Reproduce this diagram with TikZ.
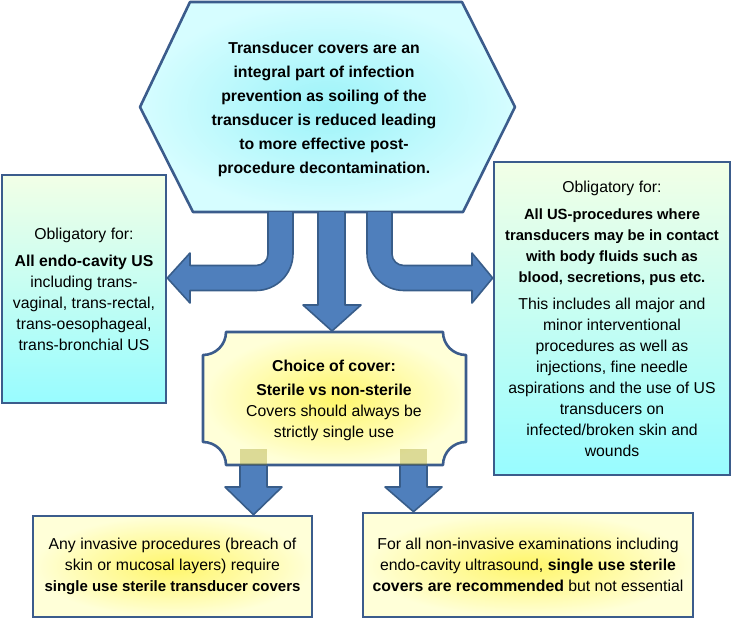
\documentclass[tikz,border=0pt]{standalone}
\usepackage{fontspec}
\setmainfont{Liberation Sans}
\usepackage{tikz}
\usetikzlibrary{calc, positioning}

\definecolor{lineblue}{HTML}{3B5C8C}
\definecolor{arrowblue}{HTML}{4F7FBC}
\definecolor{arrowline}{HTML}{385D8A}
\definecolor{palegreen}{HTML}{F2FFE6}
\definecolor{deepcyan}{HTML}{98FCFF}
\definecolor{hexinner}{HTML}{9CF3F9}
\definecolor{hexouter}{HTML}{D6FDFF}
\definecolor{yellowinner}{HTML}{FFF66A}
\definecolor{yellowouter}{HTML}{FFFFD8}
\newcommand{\smallbold}[1]{{\fontsize{14.8}{21}\selectfont\bfseries #1}}

\tikzset{
    txt/.style={font=\fontsize{15.8}{21}\selectfont, align=center, inner sep=0pt},
    cyanbox/.style={txt, draw=lineblue, line width=2.6pt, top color=palegreen, bottom color=deepcyan},
    yellowbox/.style={txt, draw=lineblue, line width=2.6pt, inner color=yellowinner, outer color=yellowouter},
    blockarrow/.style={fill=arrowblue, draw=arrowline, line width=1.6pt, line join=round},
}

\begin{document}
\begin{tikzpicture}[x=1pt, y=-1pt]
    \useasboundingbox (0,0) rectangle (733,619);

    % 1. Lục giác phía trên
    \draw[draw=lineblue, line width=2.6pt, line join=round, inner color=hexinner, outer color=hexouter]
        (190,2) -- (462,2) -- (515,107) -- (463,212) -- (193,212) -- (140,107) -- cycle;
    \node[txt, font=\fontsize{15.8}{24}\selectfont\bfseries] (intro) at (324,109)
        {Transducer covers are an\\ integral part of infection\\ prevention as soiling of the\\
         transducer is reduced leading\\ to more effective post-\\ procedure decontamination.};

    % 2. Hai hộp hai bên
    \node[cyanbox, minimum width=164, minimum height=228] (endo) at (84,289)
        {Obligatory for:\\[6pt] \textbf{All endo-cavity US}\\ including trans-\\
         vaginal, trans-rectal,\\ trans-oesophageal,\\ trans-bronchial US};
    \node[cyanbox, minimum width=236, minimum height=313] (fluids) at (612,318.5)
        {Obligatory for:\\[6pt] \smallbold{All US-procedures where}\\ \smallbold{transducers may be in contact}\\
         \smallbold{with body fluids such as}\\ \smallbold{blood, secretions, pus etc.}\\[6pt]
         This includes all major and\\ minor interventional\\ procedures as well as\\
         injections, fine needle\\ aspirations and the use of US\\ transducers on\\
         infected/broken skin and\\ wounds};

    % 3. Hộp giữa (góc lõm)
    \draw[draw=lineblue, line width=2.6pt, line join=round, inner color=yellowinner, outer color=yellowouter]
        (226,332) -- (443,332) .. controls (443,344.7) and (453.3,355) .. (466,355)
        -- (466,442) .. controls (453.3,442) and (443,452.3) .. (443,465)
        -- (226,465) .. controls (226,452.3) and (215.7,442) .. (203,442)
        -- (203,355) .. controls (215.7,355) and (226,344.7) .. (226,332) -- cycle;
    \node[txt] (choice) at (334,400)
        {\textbf{Choice of cover:}\\[3pt] \textbf{Sterile vs non-sterile}\\
         Covers should always be\\ strictly single use};

    % 4. Hai hộp phía dưới
    \node[yellowbox, minimum width=279, minimum height=101] (invasive) at (172.5,566.5)
        {Any invasive procedures (breach of\\ skin or mucosal layers) require\\
         {\fontsize{15}{21}\selectfont\bfseries single use sterile transducer covers}};
    \node[yellowbox, minimum width=330, minimum height=104] (noninvasive) at (528,565)
        {For all non-invasive examinations including\\
         endo-cavity ultrasound, \textbf{single use sterile}\\
         \textbf{covers are recommended} but not essential};

    % 5. Mũi tên khối
    \coordinate (tipL) at (endo.east |- 0,278);
    \coordinate (tipR) at (fluids.west |- 0,278);
    \draw[blockarrow] (268,212) -- (268,254) .. controls (268,260.6) and (262.6,265.5) .. (256,265.5)
        -- (190,265.5) -- (190,253) -- (tipL) -- (190,303) -- (190,290.5)
        -- (256,290.5) .. controls (276.4,290.5) and (293,274) .. (293,253.5) -- (293,212);
    \draw[blockarrow] (392,212) -- (392,254) .. controls (392,260.6) and (397.4,265.5) .. (404,265.5)
        -- (472,265.5) -- (472,253) -- (tipR) -- (472,303) -- (472,290.5)
        -- (404,290.5) .. controls (383.6,290.5) and (367,274) .. (367,253.5) -- (367,212);
    \draw[blockarrow] (318,212) -- (318,305) -- (303,305) -- (332,331) -- (361,305) -- (345,305) -- (345,212);

    \coordinate (tipA) at (invasive.north -| 253.5,0);
    \coordinate (tipB) at (noninvasive.north -| 413.5,0);
    \foreach \tip/\cx in {tipA/253.5, tipB/413.5} {
        \fill[olive, opacity=0.3] (\cx-13.5,449) rectangle (\cx+13.5,465);
        \draw[blockarrow] (\cx-13.5,466) -- (\cx-13.5,487) -- (\cx-28.5,487) -- (\tip)
            -- (\cx+28.5,487) -- (\cx+13.5,487) -- (\cx+13.5,466);
    }
\end{tikzpicture}
\end{document}
